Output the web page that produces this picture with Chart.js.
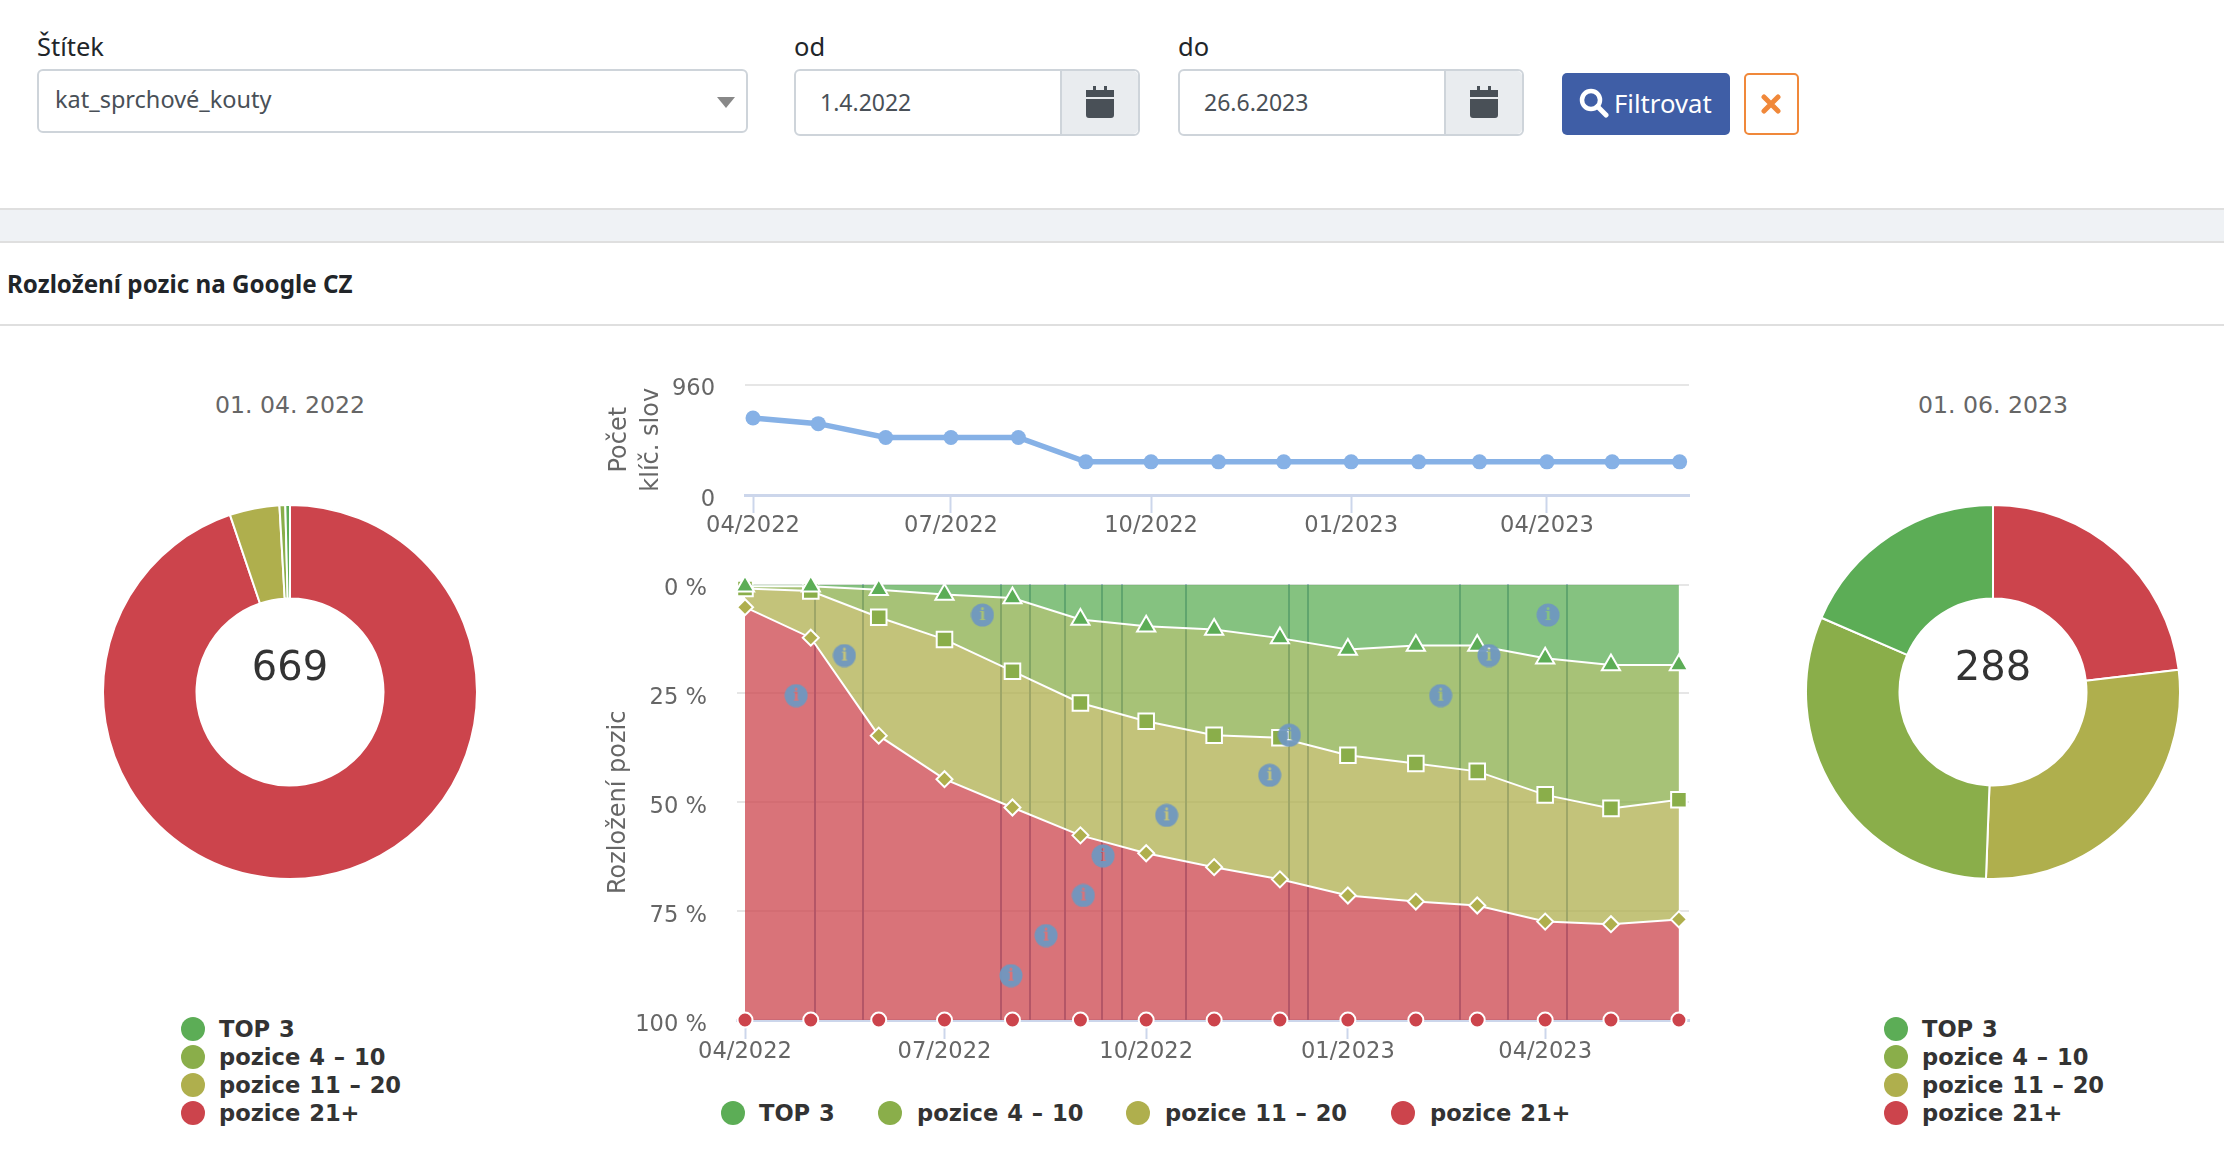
<!DOCTYPE html>
<html lang="cs">
<head>
<meta charset="utf-8">
<title>Rozložení pozic na Google CZ</title>
<script src="https://cdn.jsdelivr.net/npm/chart.js@4"></script>
<style>
  html, body { margin: 0; padding: 0; background: #fff; }
  body { width: 2224px; height: 1170px; position: relative; overflow: hidden; font-family: "Noto Sans", sans-serif; color: #212529; }
  .abs { position: absolute; white-space: nowrap; }
  .lbl { font-size: 25.5px; line-height: 30px; top: 31px; }
  .input { box-sizing: border-box; border: 2px solid #ced4da; border-radius: 6px; background: #fff; font-size: 23px; color: #495057; }
  .addon { box-sizing: border-box; border-left: 2px solid #ced4da; background: #e9ecef; border-radius: 0 5px 5px 0; }
  canvas { position: absolute; }
  .dateTitle { font-family: "DejaVu Sans"; font-size: 23.6px; color: #666; text-align: center; width: 400px; top: 390px; line-height: 30px; }
  .total { font-family: "DejaVu Sans"; font-size: 40px; color: #333; text-align: center; width: 200px; top: 641px; line-height: 50px; }
  .legText { font-family: "DejaVu Sans"; font-weight: bold; font-size: 22.6px; word-spacing: 1px; color: #333; line-height: 28px; }
  .dot { width: 24px; height: 24px; border-radius: 50%; }
</style>
</head>
<body>
  <div class="abs lbl" style="left:37px">Štítek</div>
  <div class="abs lbl" style="left:794px">od</div>
  <div class="abs lbl" style="left:1178px">do</div>

  <div class="abs input" style="left:37px;top:69px;width:711px;height:64px;line-height:56px;padding-left:16px;font-size:23.5px">kat_sprchové_kouty</div>
  <svg class="abs" style="left:717px;top:97px" width="18" height="11"><path d="M0 0H18L9 11Z" fill="#888"/></svg>

  <div class="abs input" style="left:794px;top:69px;width:346px;height:67px;line-height:62px;padding-left:24px">1.4.2022
    <div class="abs addon" style="right:0;top:0;width:78px;height:63px"></div>
  </div>
  <svg class="abs" style="left:1086px;top:86px" width="28" height="32" viewBox="0 0 28 32"><path d="M7 0h3v5H7zM18 0h3v5h-3zM0 4h28v7H0zM0 13h28v16a3 3 0 0 1-3 3H3a3 3 0 0 1-3-3z" fill="#495057"/></svg>

  <div class="abs input" style="left:1178px;top:69px;width:346px;height:67px;line-height:62px;padding-left:24px">26.6.2023
    <div class="abs addon" style="right:0;top:0;width:78px;height:63px"></div>
  </div>
  <svg class="abs" style="left:1470px;top:86px" width="28" height="32" viewBox="0 0 28 32"><path d="M7 0h3v5H7zM18 0h3v5h-3zM0 4h28v7H0zM0 13h28v16a3 3 0 0 1-3 3H3a3 3 0 0 1-3-3z" fill="#495057"/></svg>

  <div class="abs" style="left:1562px;top:73px;width:168px;height:62px;background:#3f5ea6;border-radius:5px"></div>
  <svg class="abs" style="left:1579px;top:88px" width="30" height="30" viewBox="0 0 30 30"><circle cx="12" cy="12" r="9" fill="none" stroke="#fff" stroke-width="4.5"/><path d="M18.5 18.5L27 27" stroke="#fff" stroke-width="5" stroke-linecap="round"/></svg>
  <div class="abs" style="left:1614px;top:86px;font-size:25.7px;line-height:36px;color:#fff">Filtrovat</div>
  <div class="abs" style="left:1744px;top:73px;width:55px;height:62px;box-sizing:border-box;border:2px solid #f0883a;border-radius:5px"></div>
  <svg class="abs" style="left:1761px;top:94px" width="20" height="20"><path d="M3 3L17 17M17 3L3 17" stroke="#f0883a" stroke-width="5" stroke-linecap="round"/></svg>

  <div class="abs" style="left:0;top:208px;width:2224px;height:35px;box-sizing:border-box;background:#eff2f5;border-top:2px solid #dfdfdf;border-bottom:2px solid #dfdfdf"></div>
  <div class="abs" style="left:7px;top:266px;font-size:24.2px;line-height:36px;font-weight:bold">Rozložení pozic na Google CZ</div>
  <div class="abs" style="left:0;top:324px;width:2224px;height:2px;background:#dfdfdf"></div>

  <div class="abs dateTitle" style="left:90px" id="titleStart"></div>
  <div class="abs dateTitle" style="left:1793px" id="titleEnd"></div>

  <canvas id="pieStart" style="left:102px;top:504px"></canvas>
  <canvas id="pieEnd" style="left:1805px;top:504px"></canvas>
  <div class="abs total" style="left:190px" id="totalStart"></div>
  <div class="abs total" style="left:1893px" id="totalEnd"></div>

  <canvas id="keywords" style="left:600px;top:341px"></canvas>
  <canvas id="positions" style="left:600px;top:541px"></canvas>

<script>
const seriesNames = ['TOP 3', 'pozice 4 – 10', 'pozice 11 – 20', 'pozice 21+'];
const seriesColors = ['#5cad56', '#8aae4a', '#afaf4d', '#cc444c'];
const seriesFills = ['rgba(92,173,86,0.75)', 'rgba(138,174,74,0.75)', 'rgba(175,175,77,0.75)', 'rgba(204,68,76,0.75)'];

const monthDates = ['2022-04-01','2022-05-01','2022-06-01','2022-07-01','2022-08-01','2022-09-01','2022-10-01','2022-11-01','2022-12-01','2023-01-01','2023-02-01','2023-03-01','2023-04-01','2023-05-01','2023-06-01'];
const keywordCounts = [669, 620, 500, 500, 500, 288, 288, 288, 288, 288, 288, 288, 288, 288, 288];
const top3 = [0.4, 0.4, 1.2, 2.3, 3.1, 8, 9.6, 10.3, 12.3, 14.9, 14, 14, 16.9, 18.5, 18.5];
const pos4to10 = [0.5, 1.1, 6.3, 10.3, 16.8, 19.2, 21.8, 24.3, 22.9, 24.3, 27.1, 28.9, 31.4, 32.9, 30.9];
const pos11to20 = [4.3, 10.7, 27.2, 32.1, 31.3, 30.4, 30.3, 30.3, 32.5, 32.2, 31.7, 30.8, 29.1, 26.6, 27.5];
const pos21plus = [94.8, 87.8, 65.3, 55.3, 48.8, 42.4, 38.3, 35.1, 32.3, 28.6, 27.2, 26.3, 22.6, 22, 23.1];

const tickDates = ['2022-04-01', '2022-07-01', '2022-10-01', '2023-01-01', '2023-04-01'];
const tickLabels = ['04/2022', '07/2022', '10/2022', '01/2023', '04/2023'];

// poznamky v grafu: den a vyska ikonky
const eventDates = ['2022-05-03','2022-05-25','2022-07-27','2022-08-09','2022-08-25','2022-09-11','2022-09-20','2022-10-19','2022-12-05','2022-12-14','2023-02-21','2023-03-15','2023-04-11'];
const eventLevels = [25.5, 16.3, 7, 89.8, 80.6, 71.4, 62.3, 53, 43.8, 34.6, 25.5, 16.3, 7];

const dayOf = s => (Date.parse(s) - Date.parse(monthDates[0])) / 864e5;
const axisFont = { family: 'DejaVu Sans', size: 22.6 };
const titleFont = { family: 'DejaVu Sans', size: 24, lineHeight: 1.36 };
const axisGrey = '#666666';
const lastIdx = monthDates.length - 1;

document.getElementById('titleStart').textContent = '01. 04. 2022';
document.getElementById('titleEnd').textContent = '01. 06. 2023';
document.getElementById('totalStart').textContent = keywordCounts[0];
document.getElementById('totalEnd').textContent = keywordCounts[lastIdx];

function addLegend(dotX, textX, rowsY) {
  seriesNames.forEach((name, i) => {
    const d = document.createElement('div');
    d.className = 'abs dot';
    d.style.cssText = 'left:' + (dotX[i] - 12) + 'px;top:' + (rowsY[i] - 12) + 'px;background:' + seriesColors[i];
    document.body.appendChild(d);
    const t = document.createElement('div');
    t.className = 'abs legText';
    t.style.cssText = 'left:' + textX[i] + 'px;top:' + (rowsY[i] - 14) + 'px';
    t.textContent = name;
    document.body.appendChild(t);
  });
}
addLegend([193, 193, 193, 193], [219, 219, 219, 219], [1029, 1057, 1085, 1113]);
addLegend([1896, 1896, 1896, 1896], [1922, 1922, 1922, 1922], [1029, 1057, 1085, 1113]);
addLegend([733, 890, 1138, 1403], [759, 917, 1165, 1430], [1113, 1113, 1113, 1113]);

function renderPie(id, idx) {
  const el = document.getElementById(id);
  el.width = 376; el.height = 376;
  el.style.width = '376px'; el.style.height = '376px';
  new Chart(el, {
    type: 'doughnut',
    data: {
      labels: [seriesNames[3], seriesNames[2], seriesNames[1], seriesNames[0]],
      datasets: [{
        data: [pos21plus[idx], pos11to20[idx], pos4to10[idx], top3[idx]],
        backgroundColor: [seriesColors[3], seriesColors[2], seriesColors[1], seriesColors[0]],
        borderColor: '#fff',
        borderWidth: 2
      }]
    },
    options: {
      responsive: false,
      animation: false,
      cutout: '50%',
      plugins: { legend: { display: false }, tooltip: { enabled: false } }
    }
  });
}
renderPie('pieStart', 0);
renderPie('pieEnd', lastIdx);

function timeAxis(min, max, tickLen) {
  return {
    type: 'linear',
    min: min,
    max: max,
    afterBuildTicks: scale => { scale.ticks = tickDates.map(d => ({ value: dayOf(d) })); },
    ticks: {
      autoSkip: false,
      maxRotation: 0,
      color: axisGrey,
      font: axisFont,
      padding: 0,
      callback: (v, i) => tickLabels[i]
    },
    grid: { drawOnChartArea: false, drawTicks: true, tickLength: tickLen, tickColor: '#ccd6eb', tickWidth: 2 },
    border: { color: '#ccd6eb', width: 3 }
  };
}

const keywordsEl = document.getElementById('keywords');
keywordsEl.width = 1110; keywordsEl.height = 219;
keywordsEl.style.width = '1110px'; keywordsEl.style.height = '219px';
new Chart(keywordsEl, {
  type: 'line',
  data: {
    datasets: [{
      label: 'Počet klíč. slov',
      data: monthDates.map((d, i) => ({ x: dayOf(d), y: keywordCounts[i] })),
      borderColor: '#86b1e6',
      backgroundColor: '#86b1e6',
      borderWidth: 5.5,
      pointRadius: 7.5,
      pointBorderWidth: 0,
      tension: 0,
      clip: false
    }]
  },
  options: {
    responsive: false,
    animation: false,
    layout: { padding: { top: 9, right: 21, left: 0, bottom: 0 } },
    scales: {
      x: Object.assign(timeAxis(-3.68, 430.3, 18), { afterFit: s => { s.height = 65; } }),
      y: {
        min: 0, max: 960,
        afterFit: s => { s.width = 145; },
        ticks: { stepSize: 960, color: axisGrey, font: axisFont, padding: 30, labelOffset: 5 },
        grid: { color: c => c.tick.value === 0 ? 'transparent' : '#e6e6e6', lineWidth: 2, drawTicks: false },
        border: { display: false },
        title: { display: true, text: ['Počet', 'klíč. slov'], color: axisGrey, font: titleFont, padding: { top: 3, bottom: 0 } }
      }
    },
    plugins: { legend: { display: false }, tooltip: { enabled: false } }
  }
});

// modra ikonka s dirou ve tvaru pismene i
function makeInfoIcon() {
  const c = document.createElement('canvas');
  c.width = 24; c.height = 24;
  const g = c.getContext('2d');
  g.fillStyle = 'rgba(112,152,192,0.95)';
  g.beginPath(); g.arc(12, 12, 11.5, 0, Math.PI * 2); g.fill();
  g.globalCompositeOperation = 'destination-out';
  g.font = 'bold 16px "DejaVu Serif"';
  g.textAlign = 'center'; g.textBaseline = 'middle';
  g.fillStyle = '#000';
  g.fillText('i', 12, 12.5);
  return c;
}
const infoIcon = makeInfoIcon();

const eventsPlugin = {
  id: 'events',
  beforeDatasetsDraw(chart) {
    const g = chart.ctx, a = chart.chartArea;
    g.save();
    g.strokeStyle = '#6e8db7';
    g.lineWidth = 2;
    eventDates.forEach(d => {
      const px = Math.round(chart.scales.x.getPixelForValue(dayOf(d)));
      g.beginPath(); g.moveTo(px, a.top); g.lineTo(px, a.bottom); g.stroke();
    });
    g.restore();
  },
  afterDatasetsDraw(chart) {
    eventDates.forEach((d, i) => {
      const px = chart.scales.x.getPixelForValue(dayOf(d)) - 19;
      const py = chart.scales.y.getPixelForValue(eventLevels[i]);
      chart.ctx.drawImage(infoIcon, px - 12, py - 12);
    });
  }
};

function areaSet(i, values, style, radius, lineWidth) {
  return {
    label: seriesNames[i],
    data: monthDates.map((d, k) => ({ x: dayOf(d), y: values[k] })),
    fill: i === 0 ? 'origin' : '-1',
    backgroundColor: seriesFills[i],
    borderColor: '#fff',
    borderWidth: lineWidth,
    pointStyle: style,
    pointRadius: radius,
    pointBackgroundColor: seriesColors[i],
    pointBorderColor: '#fff',
    pointBorderWidth: 2,
    tension: 0,
    clip: false
  };
}

const positionsEl = document.getElementById('positions');
positionsEl.width = 1110; positionsEl.height = 549;
positionsEl.style.width = '1110px'; positionsEl.style.height = '549px';
new Chart(positionsEl, {
  type: 'line',
  data: {
    datasets: [
      areaSet(0, top3, 'triangle', 10.5, 2),
      areaSet(1, pos4to10, 'rect', 11, 2),
      areaSet(2, pos11to20, 'rectRot', 8, 2),
      areaSet(3, pos21plus, 'circle', 7.5, 0)
    ]
  },
  options: {
    responsive: false,
    animation: false,
    layout: { padding: { top: 9, right: 21, left: 0, bottom: 0 } },
    scales: {
      x: Object.assign(timeAxis(-3.65, 430.6, 19), { afterFit: s => { s.height = 70; } }),
      y: {
        stacked: true,
        reverse: true,
        min: 0, max: 100,
        afterFit: s => { s.width = 137; },
        ticks: { stepSize: 25, color: axisGrey, font: axisFont, padding: 30, labelOffset: 5, callback: v => v + ' %' },
        grid: { color: c => c.tick.value === 100 ? 'transparent' : '#e6e6e6', lineWidth: 2, drawTicks: false },
        border: { display: false },
        title: { display: true, text: 'Rozložení pozic', color: axisGrey, font: titleFont, padding: { top: 2, bottom: 0 } }
      }
    },
    plugins: { legend: { display: false }, tooltip: { enabled: false } }
  },
  plugins: [eventsPlugin]
});
</script>
</body>
</html>
